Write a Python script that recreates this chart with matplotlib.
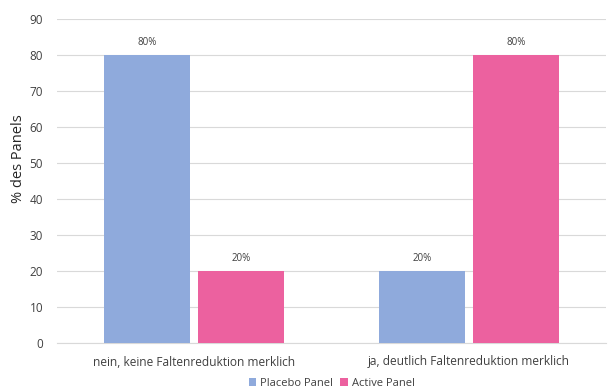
import numpy as np
import matplotlib
matplotlib.use('Agg')
import matplotlib.pyplot as plt

categories = ['nein, keine Faltenreduktion merklich', 'ja, deutlich Faltenreduktion merklich']
series_names = ['Placebo Panel', 'Active Panel']
placebo = [80, 20]
active = [20, 80]
y_ticks = list(range(0, 100, 10))

plt.rcParams['font.family'] = ['Open Sans', 'DejaVu Sans']

fig = plt.figure(figsize=(6.09, 3.89), dpi=100)
ax = fig.add_axes([57 / 609, 1 - 343 / 389, 549 / 609, 324 / 389])

x = np.arange(len(categories))
w = 0.313
off = 0.171
colors = ['#8FAADC', '#EC619F']

b1 = ax.bar(x - off, placebo, w, color=colors[0], label=series_names[0], zorder=3)
b2 = ax.bar(x + off, active, w, color=colors[1], label=series_names[1], zorder=3)

for bars in (b1, b2):
    for bar in bars:
        h = bar.get_height()
        ax.text(bar.get_x() + bar.get_width() / 2, h + 2, f'{h:.0f}%',
                ha='center', va='bottom', fontsize=7, color='#404040')

ax.set_xlim(-0.5, 1.5)
ax.set_ylim(0, 90)
ax.set_yticks(y_ticks)
ax.set_xticks(x)
ax.set_xticklabels(categories, fontsize=8.6, color='#404040')
ax.tick_params(axis='y', labelsize=8.5, colors='#404040', length=0, pad=10)
ax.tick_params(axis='x', length=0, pad=9)
ax.set_ylabel('% des Panels', fontsize=10.5, color='#262626')
ax.yaxis.set_label_coords(-0.056, 0.57)
ax.grid(axis='y', color='#D9D9D9', linewidth=0.8, zorder=0)
for s in ['top', 'right', 'left']:
    ax.spines[s].set_visible(False)
ax.spines['bottom'].set_color('#D9D9D9')

ax.legend(loc='upper center', bbox_to_anchor=(0.5, -0.09), ncol=2, frameon=False,
          fontsize=8, handlelength=0.7, handleheight=0.7, handletextpad=0.3,
          columnspacing=0.7, labelcolor='#404040', borderpad=0)

fig.savefig('out.png', dpi=100, facecolor='white')
